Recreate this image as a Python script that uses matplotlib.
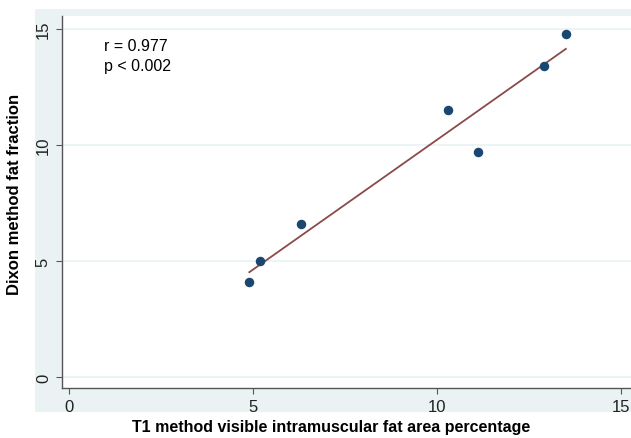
import numpy as np
import matplotlib.pyplot as plt
from matplotlib.patches import Rectangle

# T1 visible fat area % vs Dixon fat fraction
t1_pct = [4.9, 5.2, 6.3, 10.3, 11.1, 12.9, 13.5]
dixon_ff = [4.1, 5.0, 6.6, 11.5, 9.7, 13.4, 14.8]
ticks = [0, 5, 10, 15]
stats_text = "r = 0.977\np < 0.002"

x = np.array(t1_pct)
y = np.array(dixon_ff)
slope, icept = np.polyfit(x, y, 1)
xs = np.array([x.min(), x.max()])

W, H = 631, 439
fig = plt.figure(figsize=(W / 100, H / 100), dpi=100)
fig.patch.set_facecolor('white')

# Stata-like light band behind the plot region
fig.patches.append(Rectangle((35 / W, 1 - 413 / H), (W - 35) / W, (413 - 10) / H,
                             transform=fig.transFigure, facecolor='#eaf2f3',
                             edgecolor='none', zorder=-5))

ax = fig.add_axes([62 / W, 1 - 389 / H, (W - 62) / W, (389 - 17) / H])
ax.set_zorder(2)
ax.set_facecolor('white')
ax.set_xlim(-0.19, 15.27)
ax.set_ylim(-0.47, 15.56)

ax.grid(axis='y', color='#eaf2f3', lw=1.2)
ax.set_axisbelow(True)

ax.plot(xs, slope * xs + icept, color='#8b4a4a', lw=1.3, zorder=2)
ax.scatter(x, y, s=34, color='#1a476f', edgecolors='#1a476f', zorder=3)

ax.text(0.95, 14.6, stats_text, fontsize=11.5, va='top', ha='left',
        family='Liberation Sans', linespacing=1.4)

ax.set_xticks(ticks)
ax.set_yticks(ticks)
ax.tick_params(direction='out', length=4, color='#555555', labelsize=12,
               labelcolor='#222222', pad=4)
for lab in ax.get_yticklabels():
    lab.set_rotation(90)
    lab.set_va('center')
for lab in ax.get_xticklabels() + ax.get_yticklabels():
    lab.set_family('Liberation Sans')

for s in ['top', 'right']:
    ax.spines[s].set_visible(False)
for s in ['left', 'bottom']:
    ax.spines[s].set_color('#555555')
    ax.spines[s].set_linewidth(1.0)

fig.text(331 / W, 1 - 428 / H, 'T1 method visible intramuscular fat area percentage',
         ha='center', va='center', fontsize=11.5, fontweight='bold',
         family='Liberation Sans')
fig.text(15 / W, 1 - 194 / H, 'Dixon method fat fraction', rotation=90,
         ha='center', va='center', fontsize=12, fontweight='bold',
         family='Liberation Sans')

fig.savefig('out.png', dpi=100)
